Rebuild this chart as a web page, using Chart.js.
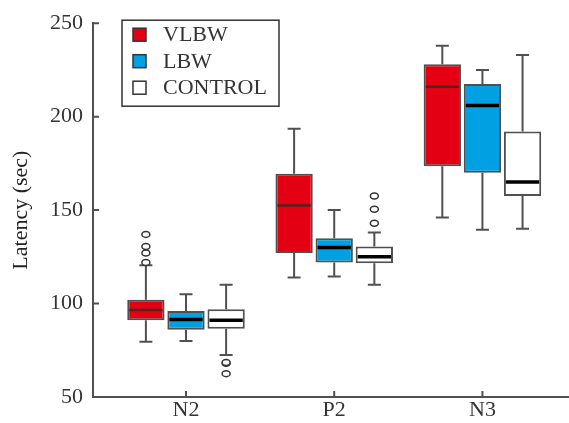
<!DOCTYPE html>
<html>
<head>
<meta charset="utf-8">
<title>Latency</title>
<script src="https://cdn.jsdelivr.net/npm/chart.js@4.4.1/dist/chart.umd.min.js"></script>
<style>
  html, body { margin: 0; padding: 0; background: #fff; }
  #wrap { width: 569px; height: 423px; position: relative; }
</style>
</head>
<body>
<div id="wrap"><canvas id="myChart"></canvas></div>
<script>
const groups = ['N2', 'P2', 'N3']
const groupPos = [1, 2, 3]
const series = ['VLBW', 'LBW', 'CONTROL']
const yTicks = [50, 100, 150, 200, 250]

// box plot values per series, order N2, P2, N3
const vlbwMin = [79.5, 114, 146]
const vlbwQ1 = [91, 127, 173.5]
const vlbwMedian = [96.5, 152.5, 216]
const vlbwQ3 = [102, 169.5, 228]
const vlbwMax = [120.5, 193.5, 238]
const vlbwOutliers = [[122, 127, 130.5, 137], [], []]

const lbwMin = [80, 114.5, 139.5]
const lbwQ1 = [86, 122, 170]
const lbwMedian = [91.5, 130, 206]
const lbwQ3 = [96, 135, 217.5]
const lbwMax = [105, 150, 225]
const lbwOutliers = [[], [], []]

const controlMin = [72.5, 110, 140]
const controlQ1 = [86.5, 121.5, 157.5]
const controlMedian = [91, 125, 165]
const controlQ3 = [97, 130.5, 192]
const controlMax = [110, 138, 233]
const controlOutliers = [[62.5, 68, 68.5], [143, 150.5, 157.5], []]

const seriesColors = ['rgb(228, 0, 18)', 'rgb(0, 160, 226)', 'rgb(255, 255, 255)']
const medianColors = ['#4e2424', '#000000', '#000000']
const lineGrey = '#505050'
const textColor = '#333333'

Chart.defaults.font.family = "'Liberation Serif', 'DejaVu Serif', serif"

function boxDataset(label, color, q1, q3, min, median, max, outliers) {
  return {
    label: label,
    data: groupPos.map((x, i) => ({ x: x, y: [q1[i], q3[i]] })),
    backgroundColor: color,
    borderColor: lineGrey,
    borderWidth: 2,
    borderSkipped: false,
    barPercentage: 0.93,
    categoryPercentage: 0.812,
    stats: { min: min, median: median, max: max, outliers: outliers },
  }
}

const data = {
  datasets: [
    boxDataset(series[0], seriesColors[0], vlbwQ1, vlbwQ3, vlbwMin, vlbwMedian, vlbwMax, vlbwOutliers),
    boxDataset(series[1], seriesColors[1], lbwQ1, lbwQ3, lbwMin, lbwMedian, lbwMax, lbwOutliers),
    boxDataset(series[2], seriesColors[2], controlQ1, controlQ3, controlMin, controlMedian, controlMax, controlOutliers),
  ],
}

// whiskers, medians, outliers, inward ticks and the boxed legend
const boxExtras = {
  id: 'boxExtras',
  beforeDatasetsDraw(chart) {
    const ctx = chart.ctx
    const y = chart.scales.y
    ctx.save()
    ctx.strokeStyle = lineGrey
    ctx.lineWidth = 2
    chart.data.datasets.forEach((ds, d) => {
      chart.getDatasetMeta(d).data.forEach((el, i) => {
        const top = y.getPixelForValue(ds.stats.max[i])
        const bottom = y.getPixelForValue(ds.stats.min[i])
        const q3 = y.getPixelForValue(ds.data[i].y[1])
        const q1 = y.getPixelForValue(ds.data[i].y[0])
        ctx.beginPath()
        ctx.moveTo(el.x, top); ctx.lineTo(el.x, q3)
        ctx.moveTo(el.x, q1); ctx.lineTo(el.x, bottom)
        ctx.moveTo(el.x - 6.5, top); ctx.lineTo(el.x + 6.5, top)
        ctx.moveTo(el.x - 6.5, bottom); ctx.lineTo(el.x + 6.5, bottom)
        ctx.stroke()
      })
    })
    ctx.restore()
  },
  afterDatasetsDraw(chart) {
    const ctx = chart.ctx
    const y = chart.scales.y
    ctx.save()
    chart.data.datasets.forEach((ds, d) => {
      chart.getDatasetMeta(d).data.forEach((el, i) => {
        const m = y.getPixelForValue(ds.stats.median[i])
        ctx.strokeStyle = medianColors[d]
        ctx.lineWidth = d === 0 ? 2.5 : 3.5
        ctx.beginPath()
        ctx.moveTo(el.x - el.width / 2 + 2, m)
        ctx.lineTo(el.x + el.width / 2 - 2, m)
        ctx.stroke()
        ds.stats.outliers[i].forEach(v => {
          ctx.strokeStyle = '#333'
          ctx.lineWidth = 1.5
          ctx.fillStyle = '#fff'
          ctx.beginPath()
          ctx.ellipse(el.x, y.getPixelForValue(v), 4, 3, 0, 0, Math.PI * 2)
          ctx.fill()
          ctx.stroke()
        })
      })
    })
    ctx.restore()
  },
  afterDraw(chart) {
    const ctx = chart.ctx
    const area = chart.chartArea
    const x = chart.scales.x
    const y = chart.scales.y
    ctx.save()
    ctx.strokeStyle = lineGrey
    ctx.lineWidth = 2
    ctx.beginPath()
    y.ticks.forEach(t => {
      const p = y.getPixelForValue(t.value)
      ctx.moveTo(area.left, p); ctx.lineTo(area.left + 6, p)
    })
    x.ticks.forEach(t => {
      const p = x.getPixelForValue(t.value)
      ctx.moveTo(p, area.bottom); ctx.lineTo(p, area.bottom - 6)
    })
    ctx.stroke()

    // legend
    const lx = area.left + 29
    const ly = area.top - 3
    ctx.lineWidth = 1.5
    ctx.strokeStyle = '#333'
    ctx.strokeRect(lx, ly, 157, 86)
    ctx.font = "22px 'Liberation Serif'"
    ctx.textBaseline = 'middle'
    ctx.fillStyle = textColor
    chart.data.datasets.forEach((ds, d) => {
      const cy = ly + 14.5 + d * 26.5
      ctx.fillStyle = seriesColors[d]
      ctx.fillRect(lx + 11, cy - 6.5, 13, 13)
      ctx.strokeRect(lx + 11, cy - 6.5, 13, 13)
      ctx.fillStyle = textColor
      ctx.fillText(ds.label, lx + 41, cy + 1)
    })
    ctx.restore()
  },
}

const config = {
  type: 'bar',
  data: data,
  options: {
    responsive: true,
    maintainAspectRatio: false,
    animation: false,
    layout: { padding: 0 },
    plugins: {
      legend: { display: false },
      tooltip: { enabled: false },
    },
    scales: {
      x: {
        type: 'linear',
        offset: false,
        min: 0.3725,
        max: 3.584,
        afterBuildTicks: scale => {
          scale.ticks = groupPos.map(v => ({ value: v }))
        },
        afterFit: scale => {
          scale.height = 26
        },
        ticks: {
          callback: value => groups[groupPos.indexOf(value)],
          color: textColor,
          font: { size: 22 },
          padding: 0,
          maxRotation: 0,
        },
        grid: { display: false, drawTicks: false, offset: false },
        border: { display: true, color: lineGrey, width: 2 },
      },
      y: {
        min: 50,
        max: 250,
        afterBuildTicks: scale => {
          scale.ticks = yTicks.map(v => ({ value: v }))
        },
        afterFit: scale => {
          scale.width = 93
        },
        ticks: {
          color: textColor,
          font: { size: 22 },
          padding: 10,
        },
        grid: { display: false, drawTicks: false },
        border: { display: true, color: lineGrey, width: 2 },
        title: {
          display: true,
          text: 'Latency (sec)',
          color: '#222',
          font: { size: 22 },
          padding: { top: 8, bottom: 0 },
        },
      },
    },
  },
  plugins: [boxExtras],
}

const chart = new Chart(document.getElementById('myChart'), config)
</script>
</body>
</html>
